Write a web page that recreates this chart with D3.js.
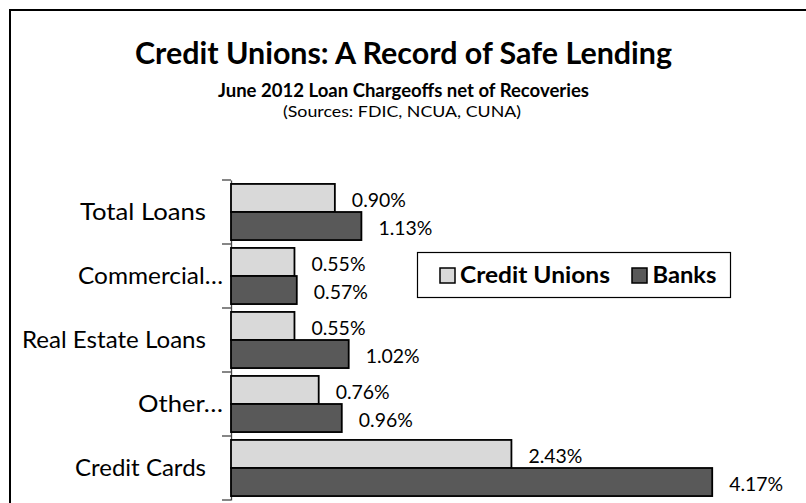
<!DOCTYPE html>
<html>
<head>
<meta charset="utf-8">
<script src="https://cdn.jsdelivr.net/npm/d3@7"></script>
<style>
  html, body { margin: 0; padding: 0; background: #fff; }
  svg { display: block; font-family: Lato, "Open Sans", sans-serif; }
</style>
</head>
<body>
<svg id="chart" width="806" height="503"></svg>
<script>
// chart data
const categories = ["Total Loans", "Commercial…", "Real Estate Loans", "Other…", "Credit Cards"];
const seriesNames = ["Credit Unions", "Banks"];
const creditUnions = [0.90, 0.55, 0.55, 0.76, 2.43];
const banks = [1.13, 0.57, 1.02, 0.96, 4.17];

const colors = { "Credit Unions": "#d9d9d9", "Banks": "#595959" };

// widths the category labels take in the original (Calibri), used to fit the fallback font
const labelWidths = { "Total Loans": 126, "Commercial…": 145, "Real Estate Loans": 184, "Other…": 85, "Credit Cards": 131 };

const rows = categories.map((c, i) => ({
  category: c,
  values: [
    { series: "Credit Unions", value: creditUnions[i] },
    { series: "Banks", value: banks[i] }
  ]
}));

const svg = d3.select("#chart");

// squeeze/stretch a text to a given width, keeping its height
function fitWidth(sel, target) {
  sel.attr("textLength", target).attr("lengthAdjust", "spacingAndGlyphs");
}

// outer frame (runs off the right and bottom edge)
svg.append("rect")
  .attr("x", 10).attr("y", 10)
  .attr("width", 820).attr("height", 520)
  .attr("fill", "#fff")
  .attr("stroke", "#000")
  .attr("stroke-width", 2);

// titles
svg.append("text")
  .attr("x", 403.5).attr("y", 63.5)
  .attr("text-anchor", "middle")
  .attr("font-size", 29.5).attr("font-weight", "bold")
  .text("Credit Unions: A Record of Safe Lending")
  .call(fitWidth, 537);

svg.append("text")
  .attr("x", 403.5).attr("y", 97)
  .attr("text-anchor", "middle")
  .attr("font-size", 18.5).attr("font-weight", "bold")
  .text("June 2012 Loan Chargeoffs net of Recoveries")
  .call(fitWidth, 371);

svg.append("text")
  .attr("x", 402).attr("y", 117)
  .attr("text-anchor", "middle")
  .attr("font-size", 15.5)
  .text("(Sources: FDIC, NCUA, CUNA)")
  .call(fitWidth, 238);

// scales
const x = d3.scaleLinear().domain([0, 5]).range([231, 808]);
const y = d3.scaleBand().domain(categories).range([180, 500]).padding(0);
const y1 = d3.scaleBand().domain(seriesNames).range([0, y.bandwidth()]).paddingInner(0).paddingOuter(0.14);

// category axis
const axis = svg.append("g")
  .attr("transform", `translate(${x(0)},0)`)
  .call(d3.axisLeft(y).tickSize(0).tickFormat(""));
axis.select(".domain").attr("stroke", "#444").attr("stroke-width", 1.3);

// tick marks between categories
const bounds = categories.map(c => y(c)).concat([y.range()[1]]);
svg.append("g")
  .selectAll("line")
  .data(bounds)
  .join("line")
  .attr("x1", x(0) - 9).attr("x2", x(0))
  .attr("y1", d => d).attr("y2", d => d)
  .attr("stroke", "#444").attr("stroke-width", 1.3);

// category labels
svg.append("g")
  .selectAll("text")
  .data(categories)
  .join("text")
  .attr("x", d => d.endsWith("…") ? 223 : 206)
  .attr("y", d => y(d) + y.bandwidth() / 2)
  .attr("dy", "0.36em")
  .attr("text-anchor", "end")
  .attr("font-size", 23.5)
  .text(d => d)
  .each(function(d) { d3.select(this).call(fitWidth, labelWidths[d]); });

// bars
const groups = svg.append("g")
  .selectAll("g")
  .data(rows)
  .join("g")
  .attr("transform", d => `translate(0,${y(d.category)})`);

groups.selectAll("rect")
  .data(d => d.values)
  .join("rect")
  .attr("x", x(0))
  .attr("y", d => y1(d.series))
  .attr("width", d => x(d.value) - x(0))
  .attr("height", y1.bandwidth())
  .attr("fill", d => colors[d.series])
  .attr("stroke", "#000")
  .attr("stroke-width", 1.8);

// value labels
groups.selectAll("text")
  .data(d => d.values)
  .join("text")
  .attr("x", d => x(d.value) + 17)
  .attr("y", d => y1(d.series) + y1.bandwidth() / 2 + 2)
  .attr("dy", "0.36em")
  .attr("font-size", 18.5)
  .text(d => d.value.toFixed(2) + "%")
  .call(fitWidth, 54);

// legend
const legend = svg.append("g");
legend.append("rect")
  .attr("x", 417.5).attr("y", 252.5)
  .attr("width", 313).attr("height", 45)
  .attr("fill", "#fff")
  .attr("stroke", "#000")
  .attr("stroke-width", 1.2);

const legendItems = [
  { name: "Credit Unions", sx: 440, tx: 460, w: 150 },
  { name: "Banks", sx: 632, tx: 652.5, w: 64 }
];
const li = legend.selectAll("g.item")
  .data(legendItems)
  .join("g")
  .attr("class", "item");
li.append("rect")
  .attr("x", d => d.sx).attr("y", 268)
  .attr("width", 15).attr("height", 15)
  .attr("fill", d => colors[d.name])
  .attr("stroke", "#000")
  .attr("stroke-width", 1.5);
li.append("text")
  .attr("x", d => d.tx).attr("y", 283)
  .attr("font-size", 22.5).attr("font-weight", "bold")
  .text(d => d.name)
  .each(function(d) { d3.select(this).call(fitWidth, d.w); });
</script>
</body>
</html>
